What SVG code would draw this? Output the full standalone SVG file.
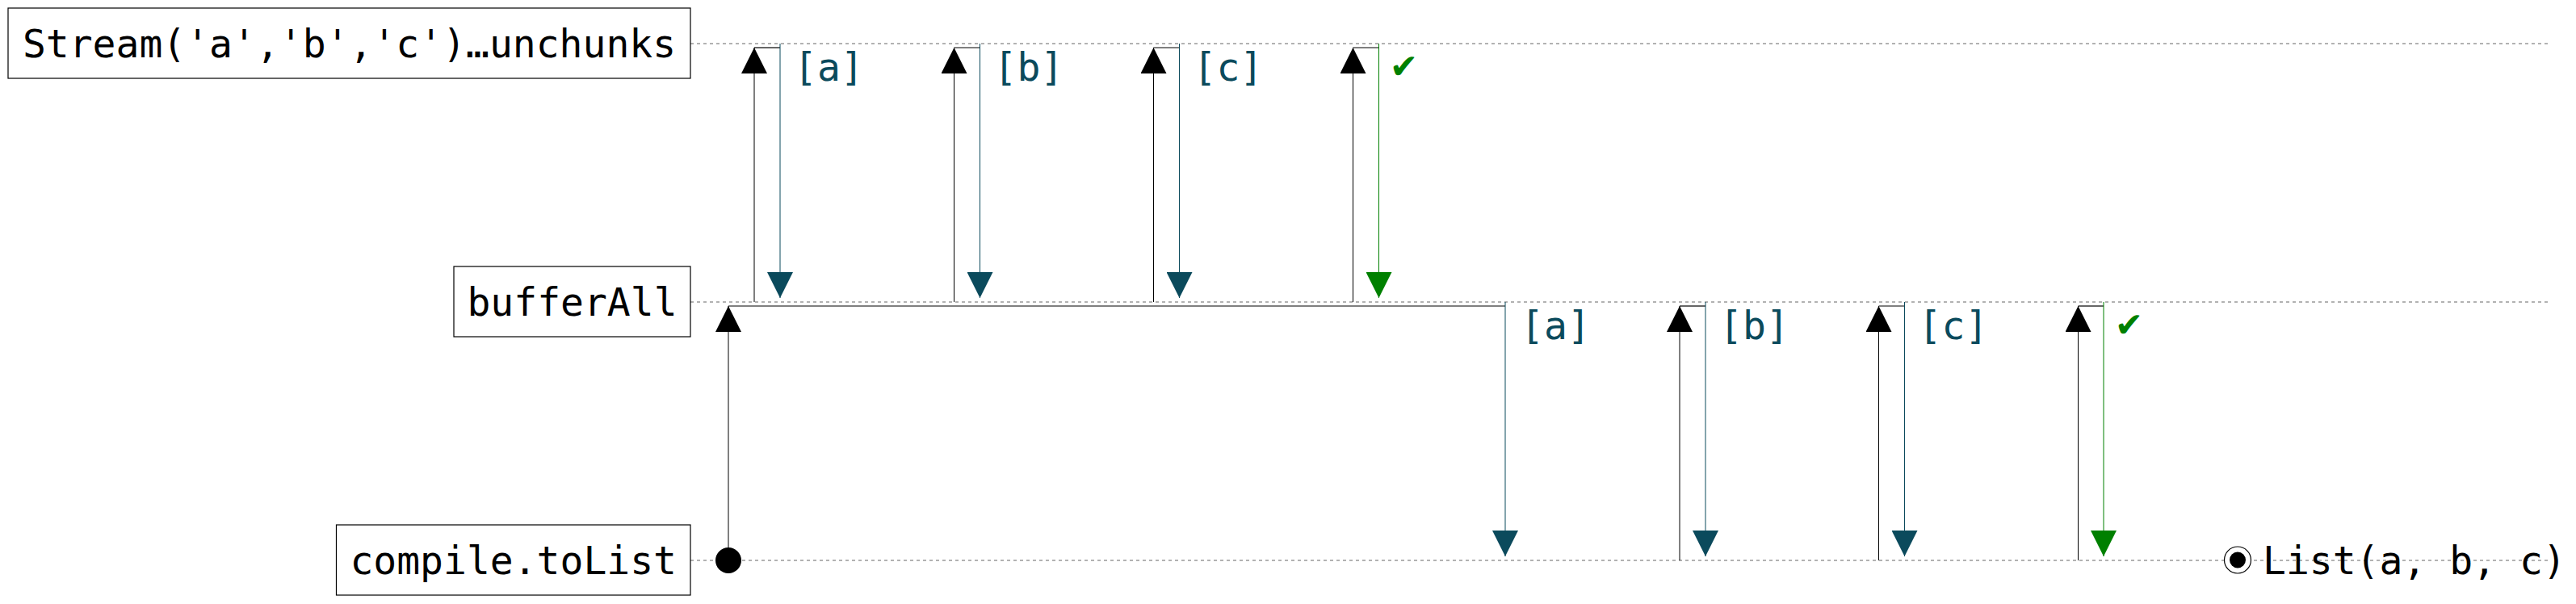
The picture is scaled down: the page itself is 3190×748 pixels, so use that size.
<svg xmlns="http://www.w3.org/2000/svg" width="3190" height="748" viewBox="0 0 3190 748">
<style>
  text { font-family: "DejaVu Sans Mono", "Liberation Mono", monospace; font-size: 48px; }
  .box { fill: #fff; stroke: #000; stroke-width: 1.2; }
  .lbl { fill: #000; text-anchor: middle; }
  .life { stroke: #999; stroke-width: 1.5; stroke-dasharray: 4 4; fill: none; }
  .up { stroke: #000; stroke-width: 1; fill: none; marker-end: url(#ah-k); }
  .hz { stroke: #000; stroke-width: 1.2; fill: none; }
  .dn { stroke: #0b4a5c; stroke-width: 1; fill: none; marker-end: url(#ah-t); }
  .dng { stroke: #008000; stroke-width: 1; fill: none; marker-end: url(#ah-g); }
  .el { fill: #0b4a5c; }
  .ok { fill: #008000; }
</style>
<defs>
  <marker id="ah-k" markerUnits="userSpaceOnUse" viewBox="0 0 32 32" markerWidth="32" markerHeight="32" refX="32" refY="16" orient="auto"><path d="M0,0 L32,16 L0,32 Z" fill="#000"/></marker>
  <marker id="ah-t" markerUnits="userSpaceOnUse" viewBox="0 0 32 32" markerWidth="32" markerHeight="32" refX="32" refY="16" orient="auto"><path d="M0,0 L32,16 L0,32 Z" fill="#0b4a5c"/></marker>
  <marker id="ah-g" markerUnits="userSpaceOnUse" viewBox="0 0 32 32" markerWidth="32" markerHeight="32" refX="32" refY="16" orient="auto"><path d="M0,0 L32,16 L0,32 Z" fill="#008000"/></marker>
</defs>
<rect width="3190" height="748" fill="#fff"/>

<g id="lifelines">
  <line class="life" x1="855" y1="54" x2="3155" y2="54"/>
  <line class="life" x1="855" y1="374" x2="3155" y2="374"/>
  <line class="life" x1="855" y1="694" x2="3155" y2="694"/>
</g>

<g id="node-stream">
  <rect class="box" x="10" y="10" width="845" height="87"/>
  <text class="lbl" x="432.5" y="71">Stream('a','b','c')…unchunks</text>
</g>
<g id="node-bufferAll">
  <rect class="box" x="562" y="330" width="293" height="87"/>
  <text class="lbl" x="708.5" y="391">bufferAll</text>
</g>
<g id="node-compile">
  <rect class="box" x="416.5" y="650" width="438.5" height="87"/>
  <text class="lbl" x="635.7" y="711">compile.toList</text>
</g>

<g id="connectors">
  <!-- top row: bufferAll pulls from Stream -->
  <line class="up" x1="934" y1="374" x2="934" y2="59"/>
  <line class="hz" x1="934" y1="59" x2="966" y2="59"/>
  <line class="dn" x1="966" y1="54" x2="966" y2="369"/>
  <text class="el" x="983" y="100">[a]</text>

  <line class="up" x1="1181.5" y1="374" x2="1181.5" y2="59"/>
  <line class="hz" x1="1181.5" y1="59" x2="1213.5" y2="59"/>
  <line class="dn" x1="1213.5" y1="54" x2="1213.5" y2="369"/>
  <text class="el" x="1230.5" y="100">[b]</text>

  <line class="up" x1="1428.5" y1="374" x2="1428.5" y2="59"/>
  <line class="hz" x1="1428.5" y1="59" x2="1460.5" y2="59"/>
  <line class="dn" x1="1460.5" y1="54" x2="1460.5" y2="369"/>
  <text class="el" x="1477.5" y="100">[c]</text>

  <line class="up" x1="1675.5" y1="374" x2="1675.5" y2="59"/>
  <line class="hz" x1="1675.5" y1="59" x2="1707.5" y2="59"/>
  <line class="dng" x1="1707.5" y1="54" x2="1707.5" y2="369"/>
  <text class="ok" x="1724" y="96">✔</text>

  <!-- bottom row: compile.toList pulls from bufferAll -->
  <circle cx="902" cy="694" r="16" fill="#000"/>
  <line class="up" x1="902" y1="694" x2="902" y2="379"/>
  <line class="hz" x1="902" y1="379" x2="1864" y2="379"/>
  <line class="dn" x1="1864" y1="374" x2="1864" y2="689"/>
  <text class="el" x="1883" y="420">[a]</text>

  <line class="up" x1="2080" y1="694" x2="2080" y2="379"/>
  <line class="hz" x1="2080" y1="379" x2="2112" y2="379"/>
  <line class="dn" x1="2112" y1="374" x2="2112" y2="689"/>
  <text class="el" x="2129" y="420">[b]</text>

  <line class="up" x1="2326.5" y1="694" x2="2326.5" y2="379"/>
  <line class="hz" x1="2326.5" y1="379" x2="2358.5" y2="379"/>
  <line class="dn" x1="2358.5" y1="374" x2="2358.5" y2="689"/>
  <text class="el" x="2375.5" y="420">[c]</text>

  <line class="up" x1="2573.5" y1="694" x2="2573.5" y2="379"/>
  <line class="hz" x1="2573.5" y1="379" x2="2605" y2="379"/>
  <line class="dng" x1="2605" y1="374" x2="2605" y2="689"/>
  <text class="ok" x="2622" y="416">✔</text>
</g>

<g id="result">
  <circle cx="2771" cy="693.5" r="16.5" fill="#fff" stroke="#000" stroke-width="1.2"/>
  <circle cx="2771" cy="693.5" r="10" fill="#000"/>
  <text x="2802" y="711" fill="#000">List(a, b, c)</text>
</g>
</svg>
